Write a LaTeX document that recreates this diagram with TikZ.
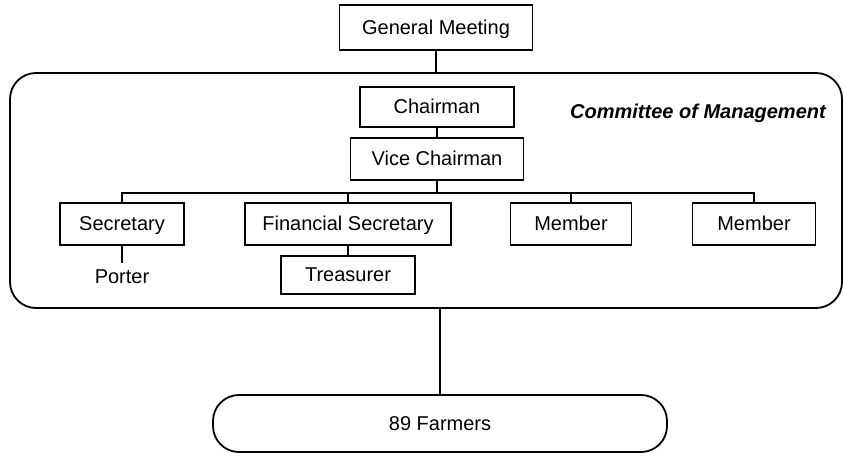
\documentclass[tikz,border=0pt]{standalone}
\usepackage{fontspec}
\setmainfont{Liberation Sans}
\usetikzlibrary{positioning}
\tikzset{
	post/.style={draw,rectangle,line width=0.9pt,inner sep=0pt,minimum height=21pt,
		text height=1.6ex,text depth=.35ex},
	body/.style={draw,rounded corners=13pt,line width=0.9pt,inner sep=0pt},
	link/.style={line width=1.1pt}
}

\begin{document}
\begin{tikzpicture}[x=0.5pt,y=-0.5pt]
	\useasboundingbox (0,0) rectangle (844,453);
	% meeting, committee and farmers
	\node [post,minimum width=96.5pt,minimum height=22.5pt] (gm) at (436,27.5) {General Meeting};
	\node [body,minimum width=416pt,minimum height=117.5pt] (com) at (426,190.5) {};
	\node [body,minimum width=227pt,minimum height=28.5pt] (farm) at (440,423.5) {89 Farmers};
	\node [font=\bfseries\itshape] (cm) at (698,113) {Committee of Management};
	% officers
	\node [post,minimum width=77pt,minimum height=20pt] (chair) at (437,107) {Chairman};
	\node [post,minimum width=86.5pt] (vc) at (437,159) {Vice Chairman};
	\node [post,minimum width=62pt] (sec) at (122,224) {Secretary};
	\node [post,minimum width=103pt] (fin) at (348,224) {Financial Secretary};
	\node [post,minimum width=60.5pt] (mem1) at (571,224) {Member};
	\node [post,minimum width=61.5pt] (mem2) at (754,224) {Member};
	\node [post,minimum width=67pt,minimum height=19pt] (treas) at (348,275) {Treasurer};
	\node (porter) at (122,277) {Porter};
	\coordinate (bus) at (437,193);
	% connectors
	\draw [link] (gm) -- (gm |- com.north);
	\draw [link] (chair) -- (vc);
	\draw [link] (vc) -- (bus);
	\foreach \n in {sec,fin,mem1,mem2}
		\draw [link] (bus) -| (\n.north);
	\draw [link] (sec) -- (porter);
	\draw [link] (fin) -- (treas);
	\draw [link] (farm |- com.south) -- (farm);
\end{tikzpicture}
\end{document}
